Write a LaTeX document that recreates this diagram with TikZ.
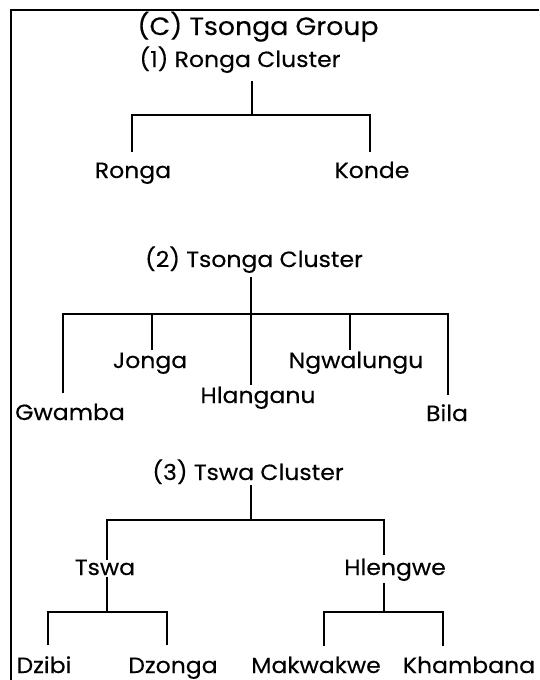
\documentclass[tikz,border=0pt]{standalone}
\usepackage{fontspec}
\setmainfont{Poppins}[FakeStretch=1.07,FakeBold=0.3]
\begin{document}
\begin{tikzpicture}[x=1pt,y=1pt,
  lbl/.style={anchor=base,inner sep=0pt,font=\fontsize{22}{26}\selectfont},
  ttl/.style={anchor=base,inner sep=0pt,font=\fontsize{25}{30}\selectfont},
  br/.style={line width=2.2pt},
  frame/.style={line width=1.6pt}]
\useasboundingbox (0,0) rectangle (539,-680);
\draw[frame] (11,-680) -- (11,-10) -- (539,-10);
% texts
\node[ttl] (title) at (258,-35) {(C) Tsonga Group};
\node[lbl] (c1) at (240,-67) {(1) Ronga Cluster};
\node[lbl] (ronga) at (133,-178) {Ronga};
\node[lbl] (konde) at (372,-178) {Konde};
\node[lbl] (c2) at (254,-267) {(2) Tsonga Cluster};
\node[lbl] (gwamba) at (70,-420) {Gwamba};
\node[lbl] (jonga) at (150,-368) {Jonga};
\node[lbl] (hlanganu) at (258,-403) {Hlanganu};
\node[lbl] (ngwalungu) at (356,-368) {Ngwalungu};
\node[lbl] (bila) at (447,-421) {Bila};
\node[lbl] (c3) at (248,-480) {(3) Tswa Cluster};
\node[lbl] (tswa) at (105,-575) {Tswa};
\node[lbl] (hlengwe) at (395,-575) {Hlengwe};
\node[lbl] (dzibi) at (44,-673) {Dzibi};
\node[lbl] (dzonga) at (173,-673) {Dzonga};
\node[lbl] (makwakwe) at (316,-673) {Makwakwe};
\node[lbl] (khambana) at (469,-673) {Khambana};
% tree 1
\coordinate (c1t) at (252,-81);
\coordinate (c1j) at (252,-115);
\coordinate (rongaT) at (132,-152);
\coordinate (kondeT) at (370,-152);
\draw[br] (c1t) -- (c1j);
\draw[br] (rongaT) |- (c1j) -| (kondeT);
% tree 2
\coordinate (c2t) at (251,-277);
\coordinate (c2j) at (251,-314);
\coordinate (gwambaT) at (63,-393);
\coordinate (jongaT) at (152,-350);
\coordinate (hlanganuT) at (251,-385);
\coordinate (ngwalunguT) at (350,-350);
\coordinate (bilaT) at (448,-395);
\draw[br] (c2t) -- (hlanganuT);
\draw[br] (gwambaT) |- (c2j) -| (bilaT);
\draw[br] (jongaT) -- (jongaT |- c2j);
\draw[br] (ngwalunguT) -- (ngwalunguT |- c2j);
% tree 3
\coordinate (c3t) at (251,-485);
\coordinate (c3j) at (251,-520);
\coordinate (tswaT) at (107,-560);
\coordinate (hlengweT) at (384,-555);
\draw[br] (c3t) -- (c3j);
\draw[br] (tswaT) |- (c3j) -| (hlengweT);
\coordinate (tswaB) at (107,-577);
\coordinate (tswaJ) at (107,-612);
\draw[br] (tswaB) -- (tswaJ);
\coordinate (dzibiT) at (48,-645);
\coordinate (dzongaT) at (167,-645);
\draw[br] (dzibiT) |- (tswaJ) -| (dzongaT);
\coordinate (hlengweB) at (384,-583);
\coordinate (hlengweJ) at (384,-612);
\draw[br] (hlengweB) -- (hlengweJ);
\coordinate (makT) at (324,-646);
\coordinate (khaT) at (443,-646);
\draw[br] (makT) |- (hlengweJ) -| (khaT);
\end{tikzpicture}
\end{document}
